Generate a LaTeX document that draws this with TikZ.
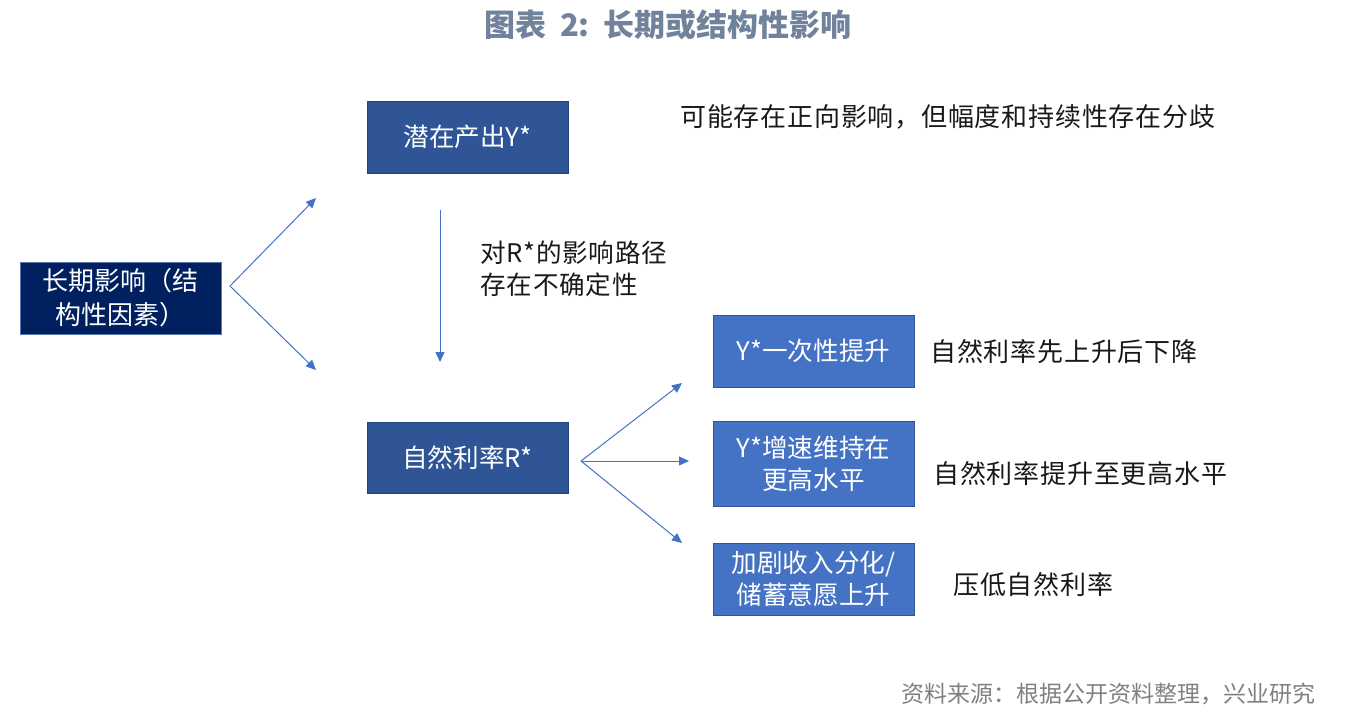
\documentclass[tikz,border=0pt]{standalone}
\usepackage{fontspec}
\setmainfont{Noto Sans CJK SC}
\setsansfont{Noto Sans CJK SC}
\usetikzlibrary{arrows.meta}
\definecolor{navy}{HTML}{002060}
\definecolor{midblue}{HTML}{2F5597}
\definecolor{lightblue}{HTML}{4472C4}
\definecolor{titlegray}{HTML}{71829C}
\definecolor{notegray}{HTML}{808080}
\tikzset{
  factorbox/.style={draw=lightblue!60!gray, fill=navy, text=white, align=center, minimum width=100.5pt, minimum height=36pt, font=\fontsize{13}{17}\selectfont, inner sep=2pt},
  varbox/.style={draw=midblue!80!black, fill=midblue, text=white, align=center, minimum width=100.5pt, minimum height=36pt, font=\fontsize{12.8}{16}\selectfont},
  effectbox/.style={draw=midblue, fill=lightblue, text=white, align=center, minimum width=100.5pt, minimum height=36pt, font=\fontsize{12.8}{16}\selectfont},
  remark/.style={text=black!90, font=\fontsize{13}{16}\selectfont\addfontfeature{LetterSpace=3}, inner sep=0pt},
  link/.style={draw=lightblue, line width=0.5pt, -{Triangle[length=5pt,width=4.5pt]}}
}
\begin{document}
\begin{tikzpicture}[x=0.5pt, y=-0.5pt]
\useasboundingbox (0,0) rectangle (1352,725);
\node[text=titlegray, font=\fontsize{15.5}{18}\selectfont\bfseries] (title) at (668,25) {图表\hspace{7pt}2:\hspace{7pt}长期或结构性影响};
\node[factorbox] (longrun) at (120.5,298) {长期影响（结\\构性因素）};
\node[varbox] (potential) at (467.5,137) {潜在产出Y*};
\node[varbox, minimum height=35.5pt] (rstar) at (467.5,457.5) {自然利率R*};
\node[effectbox] (oneoff) at (813.5,351) {Y*一次性提升};
\node[effectbox, minimum height=42.5pt] (growth) at (813.5,463.5) {Y*增速维持在\\更高水平};
\node[effectbox] (saving) at (813.5,579) {加剧收入分化/\\储蓄意愿上升};
\node[remark, anchor=west] (posnote) at (680,117) {可能存在正向影响，但幅度和持续性存在分歧};
\node[remark, anchor=north west, align=left, font=\fontsize{12.8}{16}\selectfont\addfontfeature{LetterSpace=3}] (pathnote) at (480,240) {对R*的影响路径\\存在不确定性};
\node[remark, anchor=west] (note1) at (930,352) {自然利率先上升后下降};
\node[remark, anchor=west] (note2) at (933,474) {自然利率提升至更高水平};
\node[remark, anchor=west] (note3) at (953,585) {压低自然利率};
\node[text=notegray, anchor=east, font=\fontsize{11.5}{14}\selectfont, inner sep=0pt] (source) at (1316,694) {资料来源：根据公开资料整理，兴业研究};
% forks
\coordinate (forkA) at (230,286);
\coordinate (toPot) at (316,198);
\coordinate (toR) at (316,370);
\coordinate (pathTop) at (440,210);
\coordinate (pathEnd) at (440,362);
\coordinate (forkB) at (581,461);
\coordinate (toOne) at (682,383);
\coordinate (toGrowth) at (689,461);
\coordinate (toSave) at (682,543);
\draw[link] (forkA) -- (toPot);
\draw[link] (forkA) -- (toR);
\draw[link] (pathTop) -- (pathEnd);
\draw[link] (forkB) -- (toOne);
\draw[link] (forkB) -- (toGrowth);
\draw[link] (forkB) -- (toSave);
\end{tikzpicture}
\end{document}
